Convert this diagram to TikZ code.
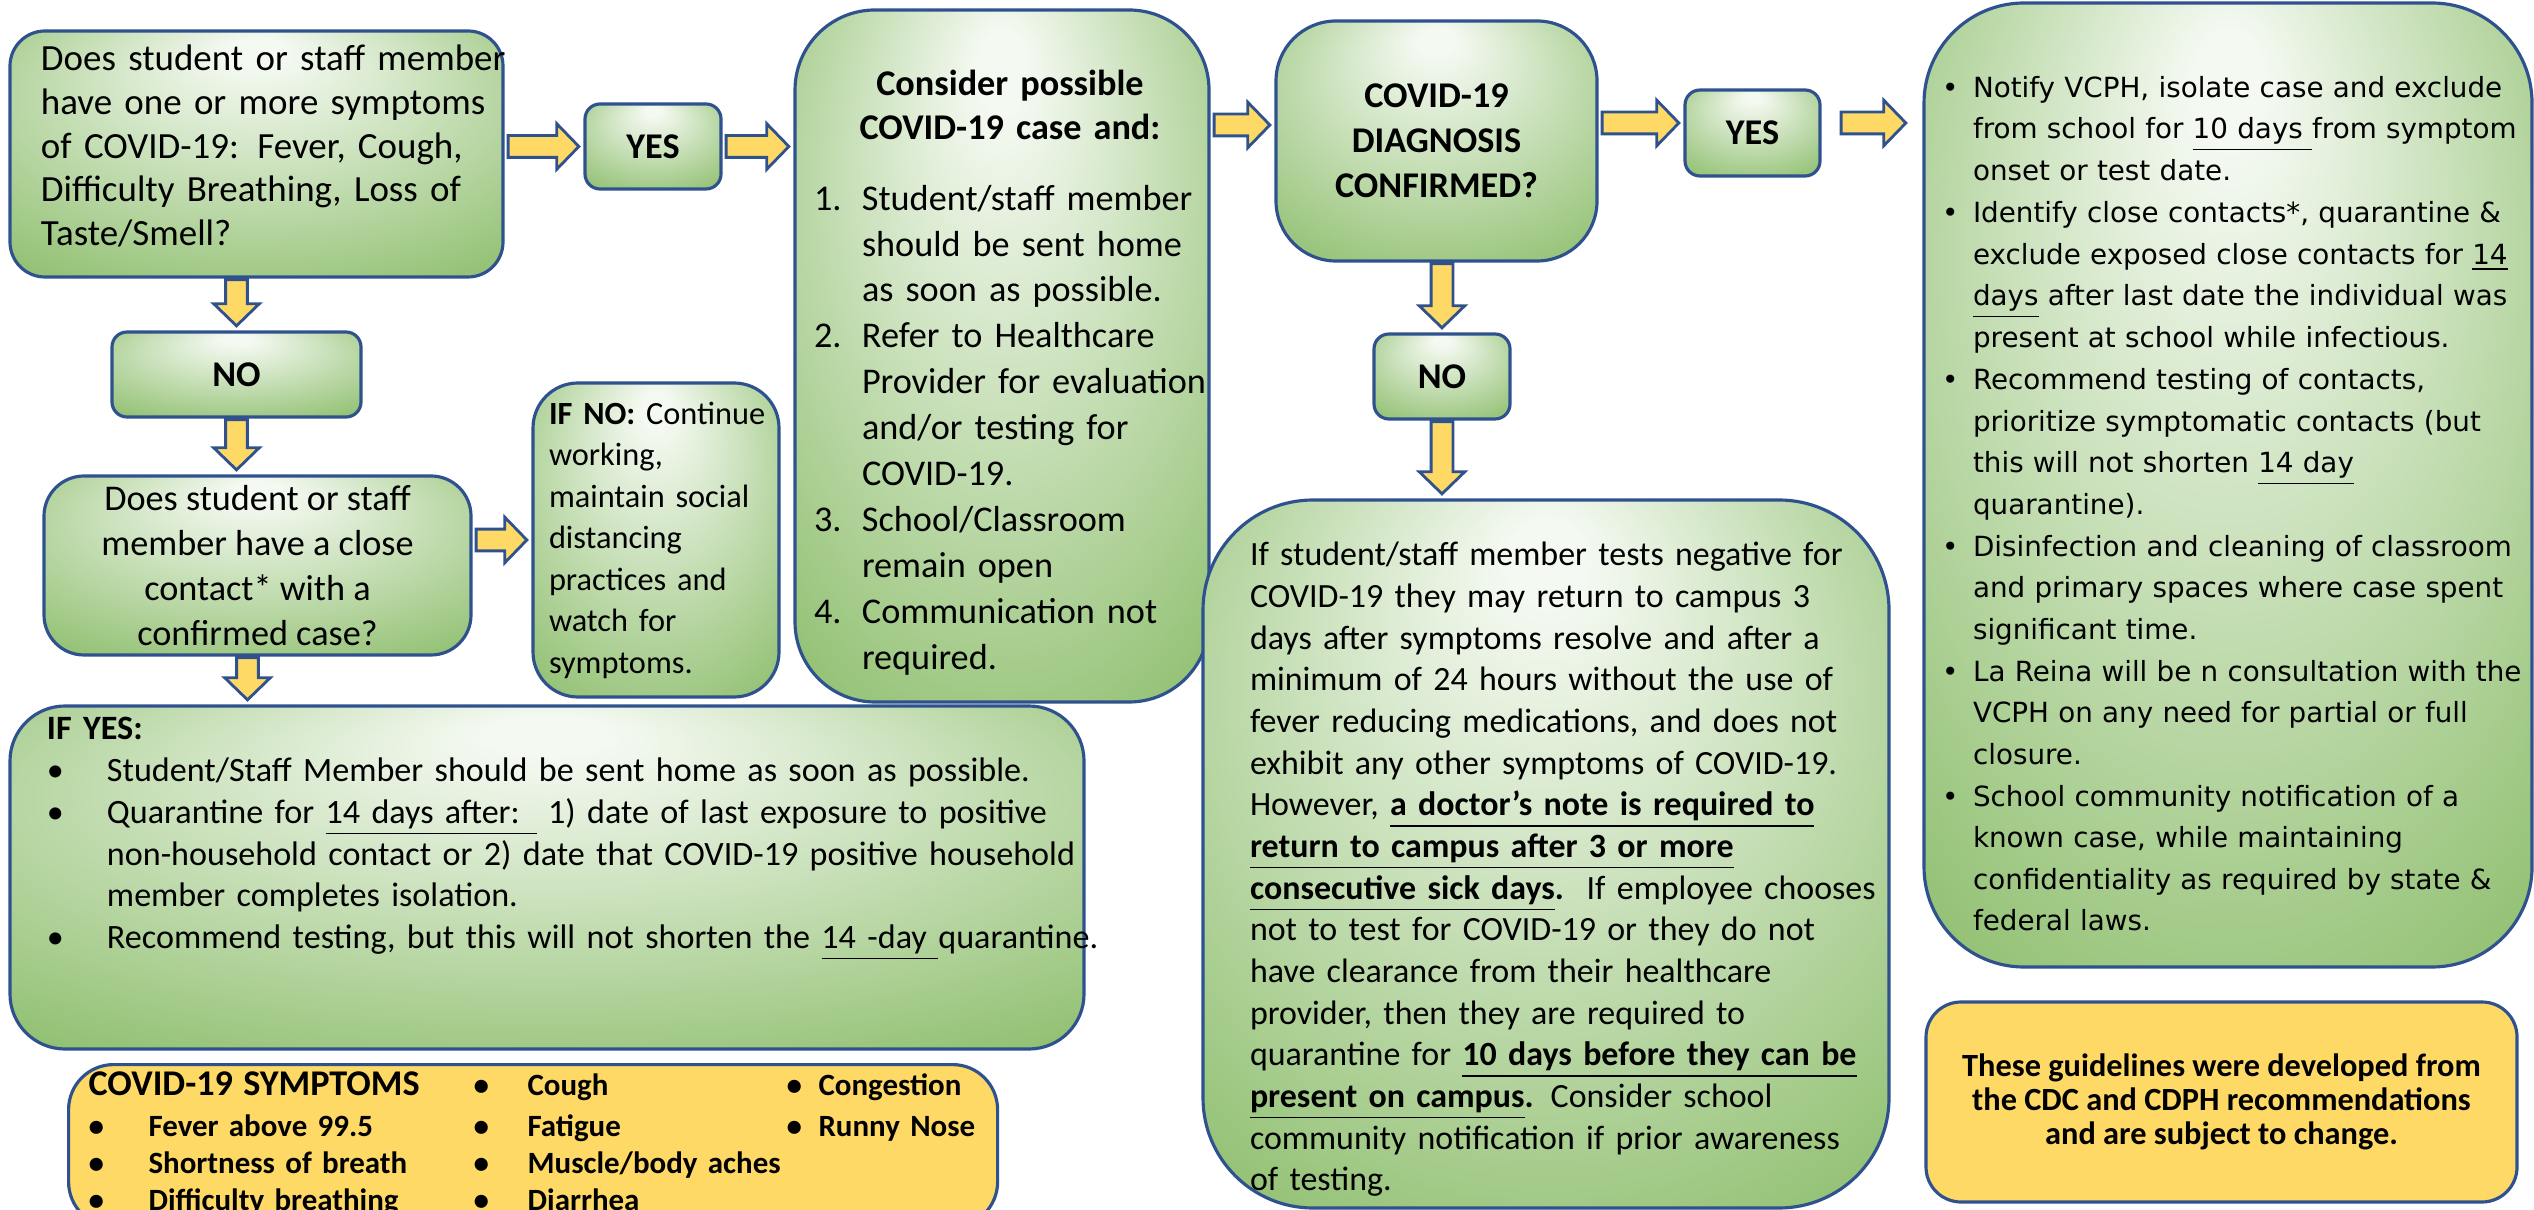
\documentclass[tikz,border=0pt]{standalone}
\usepackage{fontspec}
\setmainfont{Carlito}
\newfontfamily\widesans{DejaVu Sans}
\usetikzlibrary{calc}

\definecolor{edgeblue}{HTML}{2F528F}
\definecolor{goldfill}{HTML}{FFD966}
\definecolor{glowhi}{HTML}{F4F9F1}
\definecolor{glowlo}{HTML}{70AD47}

\pgfdeclareradialshading{greenglow}{\pgfpoint{0bp}{22bp}}{%
  color(0bp)=(glowhi); color(3bp)=(glowhi); color(50bp)=(glowlo)}

\newlength\unitpx
\setlength\unitpx{0.01cm}

\newcommand\bodysize{\fontsize{10.3}{12.75}\selectfont}
\newcommand\smallsize{\fontsize{9.65}{11.85}\selectfont}
\newcommand\widesize{\widesans\fontsize{7.9}{11.84}\selectfont}
\newcommand\padabove[1]{\rule{0pt}{#1}}
\newcommand\padbelow[1]{\rule[-#1]{0pt}{0pt}}

\tikzset{
  greenbox/.style={draw=edgeblue, line width=0.9pt, shading=greenglow, rounded corners=#1, inner sep=0pt},
  greenbox/.default=15\unitpx,
  yellowbox/.style={draw=edgeblue, line width=0.9pt, fill=goldfill, rounded corners=#1, inner sep=0pt},
  lefttext/.style={align=left, text width=#1,
    execute at begin node={\rightskip=0pt plus 1fil minus 400pt\relax}},
  blockarrow/.style={draw=edgeblue, line width=0.8pt, fill=goldfill, line join=miter},
}

% fat yellow arrows between boxes
\newcommand\flowright[2]{%
  \path[blockarrow] let \p1=(#1), \p2=(#2) in
    ({\x1+1pt},{\y2+3.1pt}) -- ({\x2-7.6pt},{\y2+3.1pt}) -- ({\x2-7.6pt},{\y2+6.5pt})
    -- ({\x2-1.3pt},\y2) -- ({\x2-7.6pt},{\y2-6.5pt}) -- ({\x2-7.6pt},{\y2-3.1pt})
    -- ({\x1+1pt},{\y2-3.1pt}) -- cycle;}
\newcommand\flowdown[2]{%
  \path[blockarrow] let \p1=(#1), \p2=(#2) in
    ({\x1-3.1pt},{\y1-0.3pt}) -- ({\x1-3.1pt},{\y2+7.6pt}) -- ({\x1-6.5pt},{\y2+7.6pt})
    -- (\x1,{\y2+1.3pt}) -- ({\x1+6.5pt},{\y2+7.6pt}) -- ({\x1+3.1pt},{\y2+7.6pt})
    -- ({\x1+3.1pt},{\y1-0.3pt}) -- cycle;}

\begin{document}
\begin{tikzpicture}[x=0.01cm, y=-0.01cm]
\useasboundingbox (0,0) rectangle (2534,1210);
\clip (0,0) rectangle (2534,1210);
\fill[white] (0,0) rectangle (2534,1210);

\node[greenbox=35\unitpx, minimum width=493\unitpx, minimum height=246\unitpx,
  lefttext=431\unitpx, inner xsep=31\unitpx, font=\fontsize{10.5}{12.4}\selectfont] (q1) at (256.5,154)
{Does student or staff member\\have one or more symptoms\\of COVID-19: Fever, Cough,\\Difficulty Breathing, Loss of\\Taste/Smell?\padbelow{5pt}};
\node[greenbox, minimum width=136\unitpx, minimum height=85\unitpx,
  font=\bodysize\bfseries] (yes1) at (653,146.5) {YES};
\node[greenbox, minimum width=249\unitpx, minimum height=85\unitpx,
  font=\bodysize\bfseries] (no1) at (236.5,374.5) {NO};
\node[greenbox=40\unitpx, minimum width=427\unitpx, minimum height=179\unitpx,
  align=center, font=\bodysize] (q2) at (257.5,565.5)
{Does student or staff\\member have a close\\contact* with a\\confirmed case?};
\node[greenbox=45\unitpx, minimum width=246\unitpx, minimum height=314\unitpx,
  lefttext=214\unitpx, inner xsep=16\unitpx, font=\fontsize{9.2}{11.8}\selectfont] (ifno) at (656,540)
{\textbf{IF NO:} Continue\\working,\\maintain social\\distancing\\practices and\\watch for\\symptoms.};

\node[greenbox=80\unitpx, minimum width=414\unitpx, minimum height=692\unitpx,
  lefttext=376\unitpx, inner xsep=19\unitpx, font=\fontsize{10.3}{13.05}\selectfont] (consider) at (1002,356)
{\begin{tabular}{@{}p{48\unitpx}@{}l@{}}
\multicolumn{2}{@{}c@{}}{\padabove{19pt}\bfseries Consider possible}\\[-0.6pt]
\multicolumn{2}{@{}c@{}}{\bfseries COVID-19 case and:}\\[7pt]
1. & Student/staff member\\
   & should be sent home\\
   & as soon as possible.\\
2. & Refer to Healthcare\\
   & Provider for evaluation\\
   & and/or testing for\\
   & COVID-19.\\
3. & School/Classroom\\
   & remain open\\
4. & Communication not\\
   & required.
\end{tabular}};

\node[greenbox=60\unitpx, minimum width=321\unitpx, minimum height=240\unitpx,
  align=center, font=\bodysize\bfseries] (diag) at (1436.5,141)
{COVID-19\\DIAGNOSIS\\CONFIRMED?};
\node[greenbox, minimum width=135\unitpx, minimum height=86\unitpx,
  font=\bodysize\bfseries] (yes2) at (1752.5,133) {YES};
\node[greenbox, minimum width=136\unitpx, minimum height=85\unitpx,
  font=\bodysize\bfseries] (no2) at (1442,376.5) {NO};

\node[greenbox=110\unitpx, minimum width=686\unitpx, minimum height=708\unitpx,
  lefttext=592\unitpx, inner xsep=47\unitpx, font=\smallsize] (neg) at (1546,854)
{\padabove{15.5pt}If student/staff member tests negative for\\
COVID-19 they may return to campus 3\\
days after symptoms resolve and after a\\
minimum of 24 hours without the use of\\
fever reducing medications, and does not\\
exhibit any other symptoms of COVID-19.\\
However, \underline{\textbf{a doctor’s note is required to}}\\
\underline{\textbf{return to campus after 3 or more}}\\
\underline{\textbf{consecutive sick days}}\textbf{.}\ \ If employee chooses\\
not to test for COVID-19 or they do not\\
have clearance from their healthcare\\
provider, then they are required to\\
quarantine for \underline{\textbf{10 days before they can be}}\\
\underline{\textbf{present on campus}}\textbf{.} Consider school\\
community notification if prior awareness\\
of testing.};

\node[greenbox=100\unitpx, minimum width=608\unitpx, minimum height=964\unitpx,
  lefttext=572\unitpx, inner xsep=18\unitpx, font=\widesize] (right) at (2228,485)
{\begin{tabular}{@{}p{31\unitpx}@{}l@{}}
\\
• & Notify VCPH, isolate case and exclude\\
  & from school for \underline{10 days }from symptom\\
  & onset or test date.\\
• & Identify close contacts*, quarantine \&\\
  & exclude exposed close contacts for \underline{14}\\
  & \underline{days} after last date the individual was\\
  & present at school while infectious.\\
• & Recommend testing of contacts,\\
  & prioritize symptomatic contacts (but\\
  & this will not shorten \underline{14 day}\\
  & quarantine).\\
• & Disinfection and cleaning of classroom\\
  & and primary spaces where case spent\\
  & significant time.\\
• & La Reina will be n consultation with the\\
  & VCPH on any need for partial or full\\
  & closure.\\
• & School community notification of a\\
  & known case, while maintaining\\
  & confidentiality as required by state \&\\
  & federal laws.
\end{tabular}};

\node[greenbox=55\unitpx, minimum width=1074\unitpx, minimum height=343\unitpx,
  lefttext=1000\unitpx, inner xsep=37\unitpx, font=\fontsize{9.7}{11.85}\selectfont] (ifyes) at (547,877.5)
{\begin{tabular}{@{}p{60\unitpx}@{}l@{}}
\multicolumn{2}{@{}l@{}}{\textbf{IF YES:}}\\
• & Student/Staff Member should be sent home as soon as possible.\\
• & Quarantine for \underline{14 days after: } 1) date of last exposure to positive\\
  & non-household contact or 2) date that COVID-19 positive household\\
  & member completes isolation.\\
• & Recommend testing, but this will not shorten the \underline{14 -day }quarantine.\\
\\
\\
\end{tabular}};

\node[yellowbox=45\unitpx, anchor=north west, minimum width=929\unitpx,
  lefttext=889\unitpx, inner xsep=20\unitpx, inner ysep=5\unitpx,
  font=\fontsize{8.8}{10.5}\selectfont\bfseries] (symptoms) at (67,1063)
{\begin{tabular}{@{}p{60\unitpx}@{}p{325\unitpx}@{}p{54\unitpx}@{}p{259\unitpx}@{}p{32\unitpx}@{}l@{}}
\multicolumn{2}{@{}l@{}}{\fontsize{10.3}{11.8}\selectfont COVID-19 SYMPTOMS} & • & Cough & • & Congestion\\[1.3pt]
• & Fever above 99.5 & • & Fatigue & • & Runny Nose\\
• & Shortness of breath & • & \mbox{Muscle/body aches} & & \\
• & Difficulty breathing & • & Diarrhea & &
\end{tabular}};

\node[yellowbox=35\unitpx, minimum width=591\unitpx, minimum height=200\unitpx,
  align=center, font=\fontsize{9.2}{9.7}\selectfont\bfseries] (guide) at (2221.5,1102)
{These guidelines were developed from\\the CDC and CDPH recommendations\\and are subject to change.};

\flowright{q1.east}{yes1.west}
\flowright{yes1.east}{consider.west |- yes1.west}
\flowright{consider.east}{$(diag.west)+(0,-16)$}
\flowright{diag.east}{$(yes2.west)+(0,-10)$}
\flowright{$(yes2.east)+(16,0)$}{$(right.west |- yes2.west)+(-12,-10)$}
\flowright{q2.east}{ifno.west}
\flowdown{no1.north |- q1.south}{no1.north}
\flowdown{no1.south}{q2.north -| no1.south}
\flowdown{$(q2.south)+(-10,0)$}{ifyes.north}
\flowdown{no2.north |- diag.south}{no2.north}
\flowdown{no2.south}{neg.north}
\end{tikzpicture}
\end{document}
